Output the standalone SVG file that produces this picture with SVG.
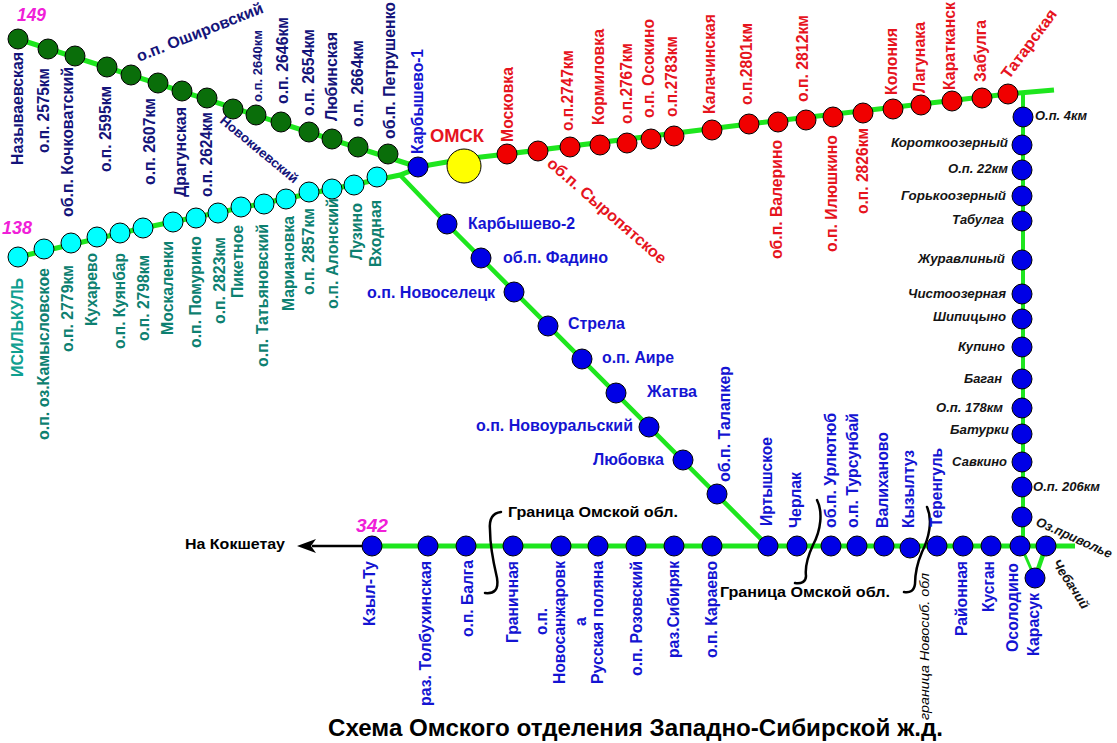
<svg xmlns="http://www.w3.org/2000/svg" width="1117" height="743" viewBox="0 0 1117 743">
<style>
text{font-family:"Liberation Sans",Arial,sans-serif;font-weight:bold;font-size:16px}
circle{stroke:#000;stroke-width:1;r:10px}
.dg{fill:#0a6e0a}.cy{fill:#00ffff}.rd{fill:#f00000}.bl{fill:#0000e6}.ye{fill:#ffff00;r:17px}
.n{fill:#14147a}.t{fill:#0d8070}.r{fill:#e6141e}.b{fill:#1414d2}
.k{fill:#141414;font-style:italic;font-size:13px}
.s{font-size:13px}
.bk{fill:#000}.m{fill:#f020d8;font-style:italic;font-size:18px}
.rail{fill:none;stroke:#1ee61e;stroke-linecap:butt}
.curl{fill:none;stroke:#000;stroke-width:2.500;stroke-linecap:round}
</style>
<rect width="1117" height="743" fill="#fff"/>
<g id="connectors">
<path class="rail" stroke-width="5" d="M18 39L418 167"/>
<path class="rail" stroke-width="5" d="M18 257L143 228L400 175L418 168"/>
<path class="rail" stroke-width="5" d="M418 167L464 159L507 154L749 124L1008 94L1054 90"/>
<path class="rail" stroke-width="4.500" d="M400 175L447 224L768 546"/>
<path class="rail" stroke-width="4" d="M1023 95V546"/>
<path class="rail" stroke-width="5" d="M372 546H1075"/>
<path class="rail" stroke-width="3" d="M1021 546L1035 578"/>
<path class="rail" stroke-width="4.500" d="M1046 546L1035 578"/>
<path d="M372 546H312" stroke="#000" stroke-width="2.500" fill="none"/>
<path d="M297 546L316 539L311 546L316 553Z" fill="#000"/>
<path class="curl" d="M501 512C492 513 489 520 490 530C490 548 494 565 497 578C499 590 494 594 485 593"/>
<path class="curl" d="M817 500C823 512 821 530 813 545C807 558 805 568 806 576C806 582 801 584 795 583"/>
<path class="curl" d="M927 507C933 520 929 538 922 552C916 566 915 576 915 584C914 591 910 593 904 592"/>
</g>
<g id="dark-line">
<g id="d1"><circle class="dg" cx="18" cy="39"/><text class="n" transform="translate(23,165) rotate(-90)" textLength="113" lengthAdjust="spacingAndGlyphs">Называевская</text></g>
<g id="d2"><circle class="dg" cx="48" cy="49"/><text class="n" transform="translate(49,153) rotate(-90)" textLength="85" lengthAdjust="spacingAndGlyphs">о.п. 2575км</text></g>
<g id="d3"><circle class="dg" cx="75" cy="56"/><text class="n" transform="translate(73,217) rotate(-90)" textLength="150" lengthAdjust="spacingAndGlyphs">об.п. Кочковатский</text></g>
<g id="d4"><circle class="dg" cx="107" cy="67"/><text class="n" transform="translate(111,172) rotate(-90)" textLength="86" lengthAdjust="spacingAndGlyphs">о.п. 2595км</text></g>
<g id="d5"><circle class="dg" cx="131" cy="75"/><text class="n" transform="translate(139,62) rotate(-21.600)" textLength="135" lengthAdjust="spacingAndGlyphs">о.п. Ошировский</text></g>
<g id="d6"><circle class="dg" cx="158" cy="83"/><text class="n" transform="translate(155,185) rotate(-90)" textLength="87" lengthAdjust="spacingAndGlyphs">о.п. 2607км</text></g>
<g id="d7"><circle class="dg" cx="182" cy="91"/><text class="n" transform="translate(186,197) rotate(-90)" textLength="90" lengthAdjust="spacingAndGlyphs">Драгунская</text></g>
<g id="d8"><circle class="dg" cx="207" cy="98"/><text class="n" transform="translate(212,197) rotate(-90)" textLength="85" lengthAdjust="spacingAndGlyphs">о.п. 2624км</text></g>
<g id="d9"><circle class="dg" cx="233" cy="109"/><text class="n s" transform="translate(219,122) rotate(39.600)" textLength="97" lengthAdjust="spacingAndGlyphs">Новокиевский</text></g>
<g id="d10"><circle class="dg" cx="256" cy="115"/><text class="n s" transform="translate(262,102) rotate(-90)" textLength="72" lengthAdjust="spacingAndGlyphs">о.п. 2640км</text></g>
<g id="d11"><circle class="dg" cx="281" cy="122"/><text class="n" transform="translate(288,104) rotate(-90)" textLength="87" lengthAdjust="spacingAndGlyphs">о.п. 2646км</text></g>
<g id="d12"><circle class="dg" cx="309" cy="132"/><text class="n" transform="translate(314,116) rotate(-90)" textLength="87" lengthAdjust="spacingAndGlyphs">о.п. 2654км</text></g>
<g id="d13"><circle class="dg" cx="332" cy="139"/><text class="n" transform="translate(337,121) rotate(-90)" textLength="89" lengthAdjust="spacingAndGlyphs">Любинская</text></g>
<g id="d14"><circle class="dg" cx="358" cy="147"/><text class="n" transform="translate(363,127) rotate(-90)" textLength="87" lengthAdjust="spacingAndGlyphs">о.п. 2664км</text></g>
<g id="d15"><circle class="dg" cx="388" cy="154"/><text class="n" transform="translate(395,139) rotate(-90)" textLength="137" lengthAdjust="spacingAndGlyphs">об.п. Петрушенко</text></g>
</g>
<g id="cyan-line">
<g id="c1"><circle class="cy" cx="18" cy="257"/><text style="fill:#10a090" transform="translate(23,377) rotate(-90)" textLength="99" lengthAdjust="spacingAndGlyphs">ИСИЛЬКУЛЬ</text></g>
<g id="c2"><circle class="cy" cx="44" cy="249"/><text class="t" transform="translate(49,440) rotate(-90)" textLength="172" lengthAdjust="spacingAndGlyphs">о.п. оз.Камысловское</text></g>
<g id="c3"><circle class="cy" cx="71" cy="243"/><text class="t" transform="translate(73,352) rotate(-90)" textLength="87" lengthAdjust="spacingAndGlyphs">о.п. 2779км</text></g>
<g id="c4"><circle class="cy" cx="97" cy="237"/><text class="t" transform="translate(97,326) rotate(-90)" textLength="73" lengthAdjust="spacingAndGlyphs">Кухарево</text></g>
<g id="c5"><circle class="cy" cx="120" cy="233"/><text class="t" transform="translate(125,349) rotate(-90)" textLength="96" lengthAdjust="spacingAndGlyphs">о.п. Куянбар</text></g>
<g id="c6"><circle class="cy" cx="143" cy="228"/><text class="t" transform="translate(149,341) rotate(-90)" textLength="86" lengthAdjust="spacingAndGlyphs">о.п. 2798км</text></g>
<g id="c7"><circle class="cy" cx="173" cy="222"/><text class="t" transform="translate(173,335) rotate(-90)" textLength="94" lengthAdjust="spacingAndGlyphs">Москаленки</text></g>
<g id="c8"><circle class="cy" cx="196" cy="218"/><text class="t" transform="translate(201,348) rotate(-90)" textLength="112" lengthAdjust="spacingAndGlyphs">о.п. Помурино</text></g>
<g id="c9"><circle class="cy" cx="218" cy="213"/><text class="t" transform="translate(225,324) rotate(-90)" textLength="87" lengthAdjust="spacingAndGlyphs">о.п. 2823км</text></g>
<g id="c10"><circle class="cy" cx="241" cy="207"/><text class="t" transform="translate(243,298) rotate(-90)" textLength="73" lengthAdjust="spacingAndGlyphs">Пикетное</text></g>
<g id="c11"><circle class="cy" cx="264" cy="204"/><text class="t" transform="translate(268,367) rotate(-90)" textLength="143" lengthAdjust="spacingAndGlyphs">о.п. Татьяновский</text></g>
<g id="c12"><circle class="cy" cx="286" cy="199"/><text class="t" transform="translate(294,311) rotate(-90)" textLength="95" lengthAdjust="spacingAndGlyphs">Мариановка</text></g>
<g id="c13"><circle class="cy" cx="309" cy="192"/><text class="t" transform="translate(314,295) rotate(-90)" textLength="87" lengthAdjust="spacingAndGlyphs">о.п. 2857км</text></g>
<g id="c14"><circle class="cy" cx="332" cy="189"/><text class="t" transform="translate(338,309) rotate(-90)" textLength="111" lengthAdjust="spacingAndGlyphs">о.п. Алонский</text></g>
<g id="c15"><circle class="cy" cx="354" cy="185"/><text class="t" transform="translate(362,260) rotate(-90)" textLength="57" lengthAdjust="spacingAndGlyphs">Лузино</text></g>
<g id="c16"><circle class="cy" cx="377" cy="177"/><text class="t" transform="translate(381,267) rotate(-90)" textLength="67" lengthAdjust="spacingAndGlyphs">Входная</text></g>
</g>
<g id="red-line">
<g id="karbyshevo1"><circle class="bl" cx="418" cy="167"/><text class="b" transform="translate(423,154) rotate(-90)" textLength="105" lengthAdjust="spacingAndGlyphs">Карбышево-1</text></g>
<g id="omsk"><circle class="ye" cx="464" cy="166"/><text class="r" style="font-size:19px" x="430" y="142" textLength="54" lengthAdjust="spacingAndGlyphs">ОМСК</text></g>
<g id="r1"><circle class="rd" cx="507" cy="154"/><text class="r" transform="translate(513,142) rotate(-90)" textLength="75" lengthAdjust="spacingAndGlyphs">Московка</text></g>
<g id="r2"><circle class="rd" cx="538" cy="151"/><text class="r" transform="translate(546,165) rotate(41)" textLength="152" lengthAdjust="spacingAndGlyphs">об.п. Сыропятское</text></g>
<g id="r3"><circle class="rd" cx="570" cy="147"/><text class="r" transform="translate(573,131) rotate(-90)" textLength="81" lengthAdjust="spacingAndGlyphs">о.п.2747км</text></g>
<g id="r4"><circle class="rd" cx="600" cy="145"/><text class="r" transform="translate(604,125) rotate(-90)" textLength="96" lengthAdjust="spacingAndGlyphs">Кормиловка</text></g>
<g id="r5"><circle class="rd" cx="627" cy="143"/><text class="r" transform="translate(632,124) rotate(-90)" textLength="81" lengthAdjust="spacingAndGlyphs">о.п.2767км</text></g>
<g id="r6"><circle class="rd" cx="651" cy="139"/><text class="r" transform="translate(654,118) rotate(-90)" textLength="99" lengthAdjust="spacingAndGlyphs">о.п. Осокино</text></g>
<g id="r7"><circle class="rd" cx="674" cy="136"/><text class="r" transform="translate(677,117) rotate(-90)" textLength="81" lengthAdjust="spacingAndGlyphs">о.п.2783км</text></g>
<g id="r8"><circle class="rd" cx="712" cy="130"/><text class="r" transform="translate(715,114) rotate(-90)" textLength="100" lengthAdjust="spacingAndGlyphs">Калачинская</text></g>
<g id="r9"><circle class="rd" cx="749" cy="124"/><text class="r" transform="translate(752,105) rotate(-90)" textLength="82" lengthAdjust="spacingAndGlyphs">о.п.2801км</text></g>
<g id="r10"><circle class="rd" cx="778" cy="122"/><text class="r" transform="translate(782,259) rotate(-90)" textLength="119" lengthAdjust="spacingAndGlyphs">об.п. Валерино</text></g>
<g id="r11"><circle class="rd" cx="806" cy="120"/><text class="r" transform="translate(808,102) rotate(-90)" textLength="87" lengthAdjust="spacingAndGlyphs">о.п. 2812км</text></g>
<g id="r12"><circle class="rd" cx="833" cy="117"/><text class="r" transform="translate(837,252) rotate(-90)" textLength="117" lengthAdjust="spacingAndGlyphs">о.п. Илюшкино</text></g>
<g id="r13"><circle class="rd" cx="863" cy="113"/><text class="r" transform="translate(868,214) rotate(-90)" textLength="86" lengthAdjust="spacingAndGlyphs">о.п. 2826км</text></g>
<g id="r14"><circle class="rd" cx="893" cy="109"/><text class="r" transform="translate(897,95) rotate(-90)" textLength="67" lengthAdjust="spacingAndGlyphs">Колония</text></g>
<g id="r15"><circle class="rd" cx="921" cy="105"/><text class="r" transform="translate(925,93) rotate(-90)" textLength="71" lengthAdjust="spacingAndGlyphs">Лагунака</text></g>
<g id="r16"><circle class="rd" cx="952" cy="101"/><text class="r" transform="translate(955,90) rotate(-90)" textLength="88" lengthAdjust="spacingAndGlyphs">Каратканск</text></g>
<g id="r17"><circle class="rd" cx="982" cy="98"/><text class="r" transform="translate(986,82) rotate(-90)" textLength="62" lengthAdjust="spacingAndGlyphs">Забулга</text></g>
<g id="r18"><circle class="rd" cx="1008" cy="94"/><text class="r" transform="translate(1009,80) rotate(-53.500)" textLength="82" lengthAdjust="spacingAndGlyphs">Татарская</text></g>
</g>
<g id="diagonal-line">
<g id="s1"><circle class="bl" cx="447" cy="224"/><text class="b" x="468" y="229" textLength="107" lengthAdjust="spacingAndGlyphs">Карбышево-2</text></g>
<g id="s2"><circle class="bl" cx="481" cy="258"/><text class="b" x="503" y="263" textLength="105" lengthAdjust="spacingAndGlyphs">об.п. Фадино</text></g>
<g id="s3"><circle class="bl" cx="514" cy="292"/><text class="b" x="367" y="298" textLength="128" lengthAdjust="spacingAndGlyphs">о.п. Новоселецк</text></g>
<g id="s4"><circle class="bl" cx="548" cy="326"/><text class="b" x="568" y="329" textLength="57" lengthAdjust="spacingAndGlyphs">Стрела</text></g>
<g id="s5"><circle class="bl" cx="582" cy="359"/><text class="b" x="602" y="363" textLength="72" lengthAdjust="spacingAndGlyphs">о.п. Аире</text></g>
<g id="s6"><circle class="bl" cx="616" cy="393"/><text class="b" x="647" y="397" textLength="50" lengthAdjust="spacingAndGlyphs">Жатва</text></g>
<g id="s7"><circle class="bl" cx="649" cy="427"/><text class="b" x="476" y="431" textLength="157" lengthAdjust="spacingAndGlyphs">о.п. Новоуральский</text></g>
<g id="s8"><circle class="bl" cx="683" cy="460"/><text class="b" x="593" y="465" textLength="71" lengthAdjust="spacingAndGlyphs">Любовка</text></g>
<g id="s9"><circle class="bl" cx="717" cy="494"/><text class="b" transform="translate(730,482) rotate(-90)" textLength="116" lengthAdjust="spacingAndGlyphs">об.п. Талапкер</text></g>
</g>
<g id="vertical-line">
<g id="v1"><circle class="bl" cx="1023" cy="117"/><text class="k" x="1035" y="120" textLength="52" lengthAdjust="spacingAndGlyphs">О.п. 4км</text></g>
<g id="v2"><circle class="bl" cx="1022" cy="145"/><text class="k" x="891" y="147" textLength="117" lengthAdjust="spacingAndGlyphs">Короткоозерный</text></g>
<g id="v3"><circle class="bl" cx="1022" cy="170"/><text class="k" x="948" y="173" textLength="60" lengthAdjust="spacingAndGlyphs">О.п. 22км</text></g>
<g id="v4"><circle class="bl" cx="1022" cy="196"/><text class="k" x="901" y="200" textLength="105" lengthAdjust="spacingAndGlyphs">Горькоозерный</text></g>
<g id="v5"><circle class="bl" cx="1022" cy="221"/><text class="k" x="952" y="224" textLength="52" lengthAdjust="spacingAndGlyphs">Табулга</text></g>
<g id="v6"><circle class="bl" cx="1022" cy="260"/><text class="k" x="918" y="263" textLength="87" lengthAdjust="spacingAndGlyphs">Журавлиный</text></g>
<g id="v7"><circle class="bl" cx="1022" cy="294"/><text class="k" x="908" y="298" textLength="98" lengthAdjust="spacingAndGlyphs">Чистоозерная</text></g>
<g id="v8"><circle class="bl" cx="1022" cy="319"/><text class="k" x="933" y="321" textLength="73" lengthAdjust="spacingAndGlyphs">Шипицыно</text></g>
<g id="v9"><circle class="bl" cx="1022" cy="347"/><text class="k" x="958" y="351" textLength="47" lengthAdjust="spacingAndGlyphs">Купино</text></g>
<g id="v10"><circle class="bl" cx="1022" cy="379"/><text class="k" x="964" y="383" textLength="38" lengthAdjust="spacingAndGlyphs">Баган</text></g>
<g id="v11"><circle class="bl" cx="1022" cy="408"/><text class="k" x="936" y="412" textLength="67" lengthAdjust="spacingAndGlyphs">О.п. 178км</text></g>
<g id="v12"><circle class="bl" cx="1022" cy="434"/><text class="k" x="950" y="434" textLength="59" lengthAdjust="spacingAndGlyphs">Батурки</text></g>
<g id="v13"><circle class="bl" cx="1022" cy="462"/><text class="k" x="952" y="466" textLength="55" lengthAdjust="spacingAndGlyphs">Савкино</text></g>
<g id="v14"><circle class="bl" cx="1022" cy="487"/><text class="k" x="1033" y="491" textLength="67" lengthAdjust="spacingAndGlyphs">О.п. 206км</text></g>
<g id="v15"><circle class="bl" cx="1022" cy="517"/></g>
</g>
<g id="bottom-line">
<g id="h1"><circle class="bl" cx="372" cy="546"/><text class="b" transform="translate(375,626) rotate(-90)" textLength="65" lengthAdjust="spacingAndGlyphs">Кзыл-Ту</text></g>
<g id="h2"><circle class="bl" cx="428" cy="546"/><text class="b" transform="translate(431,706) rotate(-90)" textLength="145" lengthAdjust="spacingAndGlyphs">раз. Толбухинская</text></g>
<g id="h3"><circle class="bl" cx="466" cy="546"/><text class="b" transform="translate(473,637) rotate(-90)" textLength="77" lengthAdjust="spacingAndGlyphs">о.п. Балга</text></g>
<g id="h4"><circle class="bl" cx="513" cy="546"/><text class="b" transform="translate(518,643) rotate(-90)" textLength="82" lengthAdjust="spacingAndGlyphs">Граничная</text></g>
<g id="h5"><circle class="bl" cx="561" cy="546"/><text class="b" transform="translate(547,635) rotate(-90)" textLength="27" lengthAdjust="spacingAndGlyphs">о.п.</text><text class="b" transform="translate(565,684) rotate(-90)" textLength="123" lengthAdjust="spacingAndGlyphs">Новосанжаровк</text><text class="b" transform="translate(586,626) rotate(-90)">а</text></g>
<g id="h6"><circle class="bl" cx="598" cy="546"/><text class="b" transform="translate(603,684) rotate(-90)" textLength="123" lengthAdjust="spacingAndGlyphs">Русская поляна</text></g>
<g id="h7"><circle class="bl" cx="636" cy="546"/><text class="b" transform="translate(642,676) rotate(-90)" textLength="115" lengthAdjust="spacingAndGlyphs">о.п. Розовский</text></g>
<g id="h8"><circle class="bl" cx="674" cy="546"/><text class="b" transform="translate(679,658) rotate(-90)" textLength="97" lengthAdjust="spacingAndGlyphs">раз.Сибиряк</text></g>
<g id="h9"><circle class="bl" cx="712" cy="546"/><text class="b" transform="translate(717,658) rotate(-90)" textLength="97" lengthAdjust="spacingAndGlyphs">о.п. Караево</text></g>
<g id="h10"><circle class="bl" cx="768" cy="546"/><text class="b" transform="translate(772,526) rotate(-90)" textLength="89" lengthAdjust="spacingAndGlyphs">Иртышское</text></g>
<g id="h11"><circle class="bl" cx="797" cy="546"/><text class="b" transform="translate(801,528) rotate(-90)" textLength="56" lengthAdjust="spacingAndGlyphs">Черлак</text></g>
<g id="h12"><circle class="bl" cx="831" cy="546"/><text class="b" transform="translate(836,528) rotate(-90)" textLength="115" lengthAdjust="spacingAndGlyphs">об.п. Урлютюб</text></g>
<g id="h13"><circle class="bl" cx="857" cy="546"/><text class="b" transform="translate(858,528) rotate(-90)" textLength="115" lengthAdjust="spacingAndGlyphs">о.п. Турсунбай</text></g>
<g id="h14"><circle class="bl" cx="884" cy="546"/><text class="b" transform="translate(888,528) rotate(-90)" textLength="96" lengthAdjust="spacingAndGlyphs">Валиханово</text></g>
<g id="h15"><circle class="bl" cx="910" cy="548"/><text class="b" transform="translate(914,528) rotate(-90)" textLength="78" lengthAdjust="spacingAndGlyphs">Кызылтуз</text></g>
<g id="h16"><circle class="bl" cx="937" cy="546"/><text class="b" transform="translate(942,527) rotate(-90)" textLength="79" lengthAdjust="spacingAndGlyphs">Теренгуль</text></g>
<g id="h17"><circle class="bl" cx="963" cy="546"/><text class="b" transform="translate(967,636) rotate(-90)" textLength="75" lengthAdjust="spacingAndGlyphs">Районная</text></g>
<g id="h18"><circle class="bl" cx="991" cy="546"/><text class="b" transform="translate(994,612) rotate(-90)" textLength="51" lengthAdjust="spacingAndGlyphs">Кусган</text></g>
<g id="h19"><circle class="bl" cx="1020" cy="546"/><text class="b" transform="translate(1018,652) rotate(-90)" textLength="89" lengthAdjust="spacingAndGlyphs">Осолодино</text></g>
<g id="h20"><circle class="bl" cx="1046" cy="546"/><text class="k" transform="translate(1035,525) rotate(24)" textLength="82" lengthAdjust="spacingAndGlyphs">Оз.приволье</text></g>
<g id="h21"><circle class="bl" cx="1035" cy="578"/><text class="b" transform="translate(1039,656) rotate(-90)" textLength="63" lengthAdjust="spacingAndGlyphs">Карасук</text></g>
<text class="k" transform="translate(1052,563) rotate(57)" textLength="56" lengthAdjust="spacingAndGlyphs">Чебачий</text>
</g>
<g id="labels">
<text class="m" x="17" y="21" textLength="29" lengthAdjust="spacingAndGlyphs">149</text>
<text class="m" x="2" y="234" textLength="30" lengthAdjust="spacingAndGlyphs">138</text>
<text class="m" x="356" y="532" textLength="32" lengthAdjust="spacingAndGlyphs">342</text>
<text class="bk" style="font-size:15px" x="185" y="549" textLength="100" lengthAdjust="spacingAndGlyphs">На Кокшетау</text>
<text class="bk" style="font-size:15px" x="508" y="517" textLength="170" lengthAdjust="spacingAndGlyphs">Граница Омской обл.</text>
<text class="bk" style="font-size:15px" x="720" y="597" textLength="170" lengthAdjust="spacingAndGlyphs">Граница Омской обл.</text>
<text class="bk" style="font-weight:normal;font-style:italic;font-size:13px" transform="translate(929,720) rotate(-90)" textLength="147" lengthAdjust="spacingAndGlyphs">граница Новосиб. обл</text>
<text class="bk" style="font-size:23px" x="328" y="735.500" textLength="615" lengthAdjust="spacingAndGlyphs">Схема Омского отделения Западно-Сибирской ж.д.</text>
</g>
</svg>
